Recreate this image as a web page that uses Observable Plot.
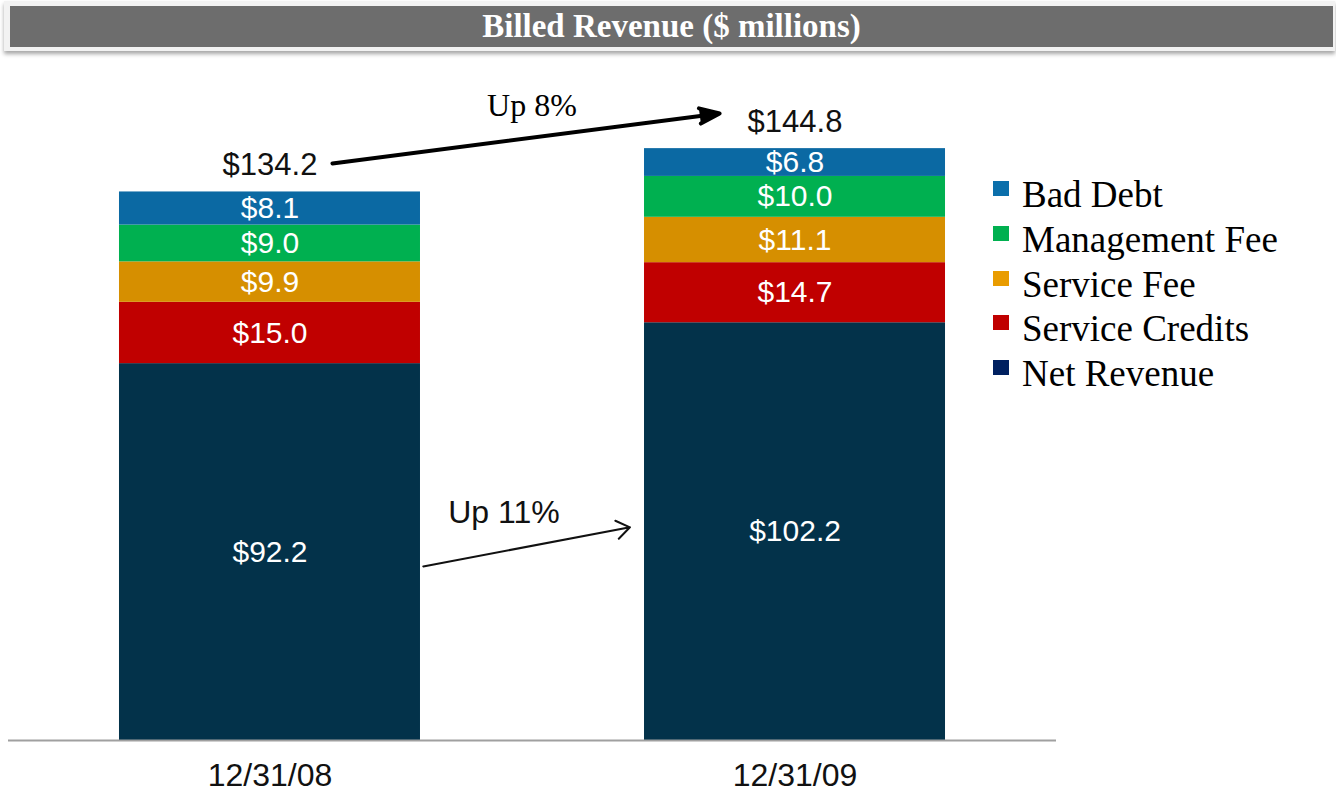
<!DOCTYPE html>
<html><head><meta charset="utf-8">
<script src="https://cdn.jsdelivr.net/npm/d3@7"></script>
<script src="https://cdn.jsdelivr.net/npm/@observablehq/plot@0.6"></script>
<style>
html,body{margin:0;padding:0;background:#fff;}
#page{position:relative;width:1336px;height:798px;overflow:hidden;background:#fff;}
#titlebar{position:absolute;left:4px;top:1px;width:1331px;height:50px;background:#f2f2f2;box-shadow:0 3px 4px rgba(0,0,0,0.35);}
#title{position:absolute;left:6px;top:5px;right:2px;height:41px;background:#6d6d6d;color:#fff;font:bold 33px "Liberation Serif","Times New Roman",serif;text-align:center;line-height:41px;}
#chart{position:absolute;left:0;top:60px;}
#legend{position:absolute;left:993px;top:0;width:340px;height:400px;}
.item{position:absolute;left:0;white-space:nowrap;font:37px "Liberation Serif","Times New Roman",serif;color:#000;height:45px;line-height:45px;}
.sw{position:absolute;left:0;top:9px;width:16px;height:15px;}
.lbl{position:absolute;left:29px;top:0;}
</style></head>
<body>
<div id="page">
  <div id="titlebar"><div id="title">Billed Revenue ($ millions)</div></div>
  <div id="chart"></div>
  <div id="legend"></div>
</div>
<script>
// ---- data ----
const dates = ["12/31/08", "12/31/09"];
const series = ["Net Revenue", "Service Credits", "Service Fee", "Management Fee", "Bad Debt"];
const netRevenue = [92.2, 102.2];
const serviceCredits = [15.0, 14.7];
const serviceFee = [9.9, 11.1];
const managementFee = [9.0, 10.0];
const badDebt = [8.1, 6.8];
const barColors = ["#03324a", "#c00000", "#d68f00", "#00b050", "#0b69a3"];
const legendOrder = ["Bad Debt", "Management Fee", "Service Fee", "Service Credits", "Net Revenue"];
const legendColors = ["#0b6fab", "#00b050", "#e99c00", "#c00000", "#002060"];
const growthLabels = ["Up 8%", "Up 11%"];
const growthLabelY = [155.4, 55.8];
const totalArrowY = [139.2, 155.8];
const netArrowY = [35.5, 59.8];

// ---- tables built from the arrays ----
const valuesBySeries = [netRevenue, serviceCredits, serviceFee, managementFee, badDebt];
const rows = [];
series.forEach((s, si) => dates.forEach((d, di) => rows.push({date: d, series: s, value: valuesBySeries[si][di]})));
const totals = dates.map((d, di) => ({date: d, total: d3.sum(valuesBySeries, v => v[di])}));
const totalArrow = [{from: dates[0], to: dates[1], y1: totalArrowY[0], y2: totalArrowY[1]}];
const netArrow = [{from: dates[0], to: dates[1], y1: netArrowY[0], y2: netArrowY[1]}];
const fmt = v => "$" + v.toFixed(1);
const sans = '"Liberation Sans", Arial, Helvetica, sans-serif';
const serif = '"Liberation Serif", "Times New Roman", serif';

const chart = Plot.plot({
  width: 1336,
  height: 738,
  marginTop: 26,
  marginBottom: 58,
  marginLeft: 8,
  marginRight: 280,
  style: {fontFamily: sans, background: "transparent", overflow: "visible"},
  x: {domain: dates, paddingInner: 0.4267, paddingOuter: 0.2114, round: false},
  y: {domain: [0, 160], axis: null},
  color: {domain: series, range: barColors},
  marks: [
    Plot.barY(rows, {x: "date", y: "value", fill: "series", order: series}),
    Plot.ruleY([0], {stroke: "#a0a0a0", strokeWidth: 2}),
    Plot.axisX({tickSize: 0, tickPadding: 23, fontSize: 32, fill: "#111", label: null}),
    Plot.text(rows, Plot.stackY({x: "date", y: "value", z: "series", order: series, text: d => fmt(d.value), fill: "white", fontSize: 30})),
    Plot.text(totals, {x: "date", y: "total", text: d => fmt(d.total), dy: -27, fontSize: 31, fill: "#111"}),
    Plot.arrow(totalArrow, {x1: "from", y1: "y1", x2: "to", y2: "y2", insetStart: 63, insetEnd: 76, stroke: "#000", fill: "#000", strokeWidth: 4, headLength: 8, headAngle: 42, ariaLabel: "total-arrow"}),
    Plot.arrow(netArrow, {x1: "from", y1: "y1", x2: "to", y2: "y2", insetStart: 156, insetEnd: 168, stroke: "#111", strokeWidth: 2, headLength: 12, headAngle: 70}),
    Plot.text([0], {x: () => dates[0], y: () => growthLabelY[0], text: () => growthLabels[0], dx: 262, fontSize: 32, fontFamily: serif, fill: "#000"}),
    Plot.text([0], {x: () => dates[0], y: () => growthLabelY[1], text: () => growthLabels[1], dx: 234, fontSize: 32, fill: "#111"})
  ]
});
// close the head of the total arrow so it reads as a solid triangle
chart.querySelectorAll('g[aria-label="total-arrow"] path').forEach(p => {
  const d = p.getAttribute("d");
  if (d && !/Z$/i.test(d)) p.setAttribute("d", d + "Z");
});
document.getElementById("chart").appendChild(chart);

// ---- legend ----
const legend = document.getElementById("legend");
legendOrder.forEach((name, i) => {
  const item = document.createElement("div");
  item.className = "item";
  item.style.top = (172 + i * 44.8) + "px";
  const sw = document.createElement("div");
  sw.className = "sw";
  sw.style.background = legendColors[i];
  const lbl = document.createElement("div");
  lbl.className = "lbl";
  lbl.textContent = name;
  item.appendChild(sw);
  item.appendChild(lbl);
  legend.appendChild(item);
});
</script>
</body></html>
